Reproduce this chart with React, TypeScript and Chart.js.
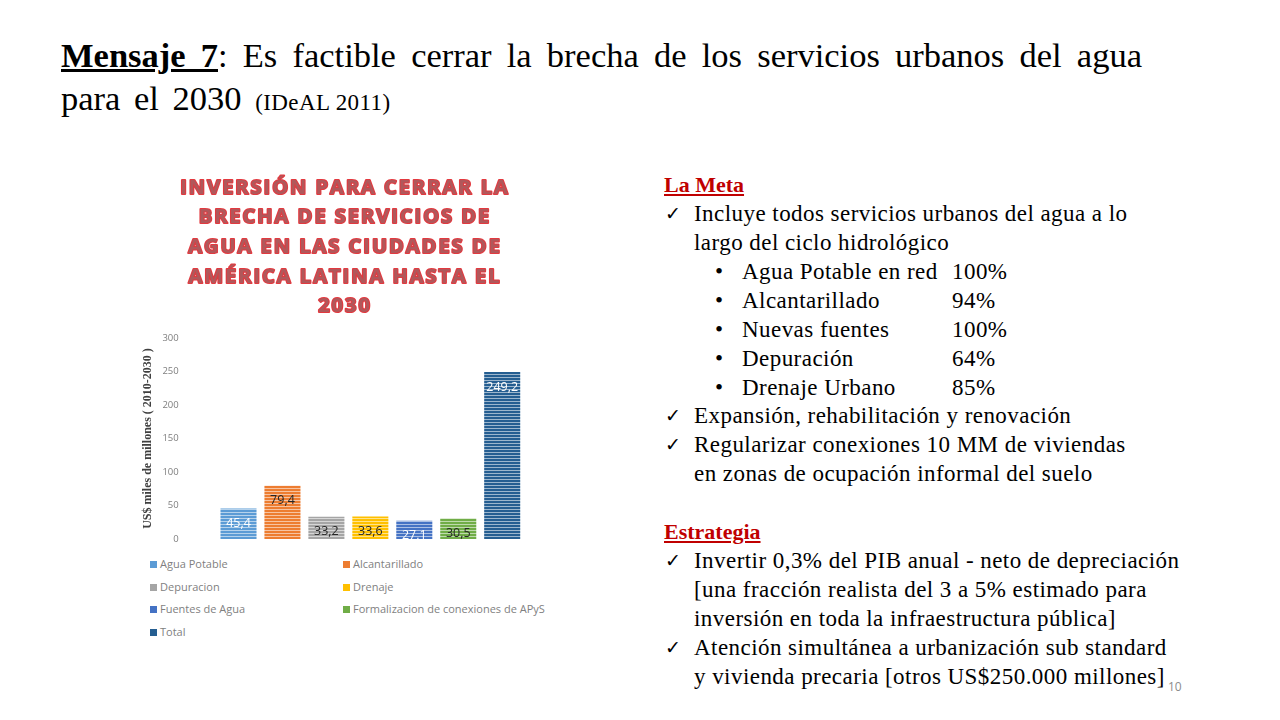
import React, { useEffect, useRef } from "react";
import { Chart, registerables } from "chart.js";

Chart.register(...registerables);

const seriesNames = [
  "Agua Potable",
  "Alcantarillado",
  "Depuracion",
  "Drenaje",
  "Fuentes de Agua",
  "Formalizacion de conexiones de APyS",
  "Total",
];
const seriesValues = [45.4, 79.4, 33.2, 33.6, 27.1, 30.5, 249.2];
const seriesColors = ["#5B9BD5", "#ED7D31", "#A5A5A5", "#FFC000", "#4472C4", "#70AD47", "#255E91"];
const labelColors = ["#FFFFFF", "#262626", "#262626", "#262626", "#FFFFFF", "#262626", "#FFFFFF"];
const chartTitle = [
  "INVERSIÓN PARA CERRAR LA",
  "BRECHA DE SERVICIOS DE",
  "AGUA EN LAS CIUDADES DE",
  "AMÉRICA LATINA HASTA EL",
  "2030",
];
const yAxisTitle = "US$ miles de millones ( 2010-2030 )";
const yMin = 0;
const yMax = 300;
const yStep = 50;

function makePattern(color: string): CanvasPattern | string {
  const c = document.createElement("canvas");
  c.width = 4;
  c.height = 3;
  const ctx = c.getContext("2d");
  if (!ctx) return color;
  ctx.fillStyle = color;
  ctx.fillRect(0, 0, 4, 3);
  ctx.fillStyle = "rgba(255,255,255,0.55)";
  ctx.fillRect(0, 2, 4, 1);
  const p = ctx.createPattern(c, "repeat");
  return p || color;
}

const fmt = (v: number) => v.toFixed(1).replace(".", ",");

const valueLabels = {
  id: "valueLabels",
  afterDatasetsDraw(chart: any) {
    const ctx = chart.ctx;
    ctx.save();
    ctx.font = "12.5px 'Open Sans'";
    ctx.textAlign = "center";
    ctx.textBaseline = "middle";
    chart.data.datasets.forEach((ds: any, i: number) => {
      const meta = chart.getDatasetMeta(i);
      const el = meta.data[0];
      if (!el) return;
      ctx.fillStyle = labelColors[i];
      ctx.fillText(fmt(ds.data[0]), el.x, el.y + 15);
    });
    ctx.restore();
  },
};

const outlinedTitle = {
  id: "outlinedTitle",
  afterDraw(chart: any) {
    const ctx = chart.ctx;
    ctx.save();
    ctx.font = "bold 20px 'Open Sans'";
    (ctx as any).letterSpacing = "2px";
    ctx.textAlign = "center";
    ctx.textBaseline = "middle";
    ctx.lineJoin = "round";
    const cx = 215;
    chartTitle.forEach((line, i) => {
      const y = 23 + i * 29.6;
      ctx.strokeStyle = "#E3393F";
      ctx.lineWidth = 2.2;
      ctx.strokeText(line, cx, y);
      ctx.fillStyle = "#B0585B";
      ctx.fillText(line, cx, y);
    });
    ctx.restore();
  },
};

function BarChart() {
  const ref = useRef<HTMLCanvasElement | null>(null);
  useEffect(() => {
    if (!ref.current) return;
    const chart = new Chart(ref.current, {
      type: "bar",
      data: {
        labels: [""],
        datasets: seriesNames.map((n, i) => ({
          label: n,
          data: [seriesValues[i]],
          backgroundColor: makePattern(seriesColors[i]) as any,
          borderWidth: 0,
          barPercentage: 0.82,
          categoryPercentage: 0.861,
        })),
      },
      options: {
        animation: false,
        responsive: false,
        maintainAspectRatio: false,
        layout: { padding: { left: 11, right: 21, top: 173, bottom: 11 } },
        plugins: {
          legend: { display: false },
          tooltip: { enabled: false },
          title: { display: false },
        },
        scales: {
          x: { display: false },
          y: {
            min: yMin,
            max: yMax,
            ticks: {
              stepSize: yStep,
              color: "#7F7F7F",
              font: { family: "'Open Sans'", size: 9.5 },
              padding: 5,
            },
            grid: { display: false },
            border: { display: false },
            title: {
              display: true,
              text: yAxisTitle,
              color: "#404040",
              font: { family: "'Liberation Serif'", size: 12, weight: "bold" },
              padding: { top: 0, bottom: 2 },
            },
          },
        },
      },
      plugins: [valueLabels, outlinedTitle],
    });
    return () => chart.destroy();
  }, []);
  return <canvas ref={ref} width={440} height={385} style={{ position: "absolute", left: 130, top: 165 }} />;
}

const serif = "'Liberation Serif', 'Times New Roman', serif";

export default function App() {
  const legendRows: number[][] = [];
  for (let i = 0; i < seriesNames.length; i += 2) legendRows.push([i, i + 1].filter((k) => k < seriesNames.length));
  const check = (top: number, lines: string[]) =>
    lines.map((l, j) => (
      <div key={l} style={{ position: "absolute", left: 694, top: top + j * 29, whiteSpace: "nowrap" }}>
        {j === 0 && <span style={{ position: "absolute", left: -29, fontFamily: "'DejaVu Sans'", fontSize: 19, top: 0, letterSpacing: 0 }}>✓</span>}
        {l}
      </div>
    ));
  const bullets: [string, string][] = [
    ["Agua Potable en red", "100%"],
    ["Alcantarillado", "94%"],
    ["Nuevas fuentes", "100%"],
    ["Depuración", "64%"],
    ["Drenaje Urbano", "85%"],
  ];
  return (
    <div style={{ position: "absolute", left: 0, top: 0, width: 1280, height: 720, background: "#fff", overflow: "hidden", fontFamily: serif, color: "#000" }}>
      <div style={{ position: "absolute", left: 61, top: 34, width: 1081, fontSize: 34.5, lineHeight: "43px", textAlign: "justify", textAlignLast: "justify" as any, whiteSpace: "nowrap" }}>
        <span style={{ fontWeight: "bold", textDecoration: "underline" }}>Mensaje 7</span>: Es factible cerrar la brecha de los servicios urbanos del agua
      </div>
      <div style={{ position: "absolute", left: 61, top: 77, fontSize: 34.5, lineHeight: "43px", whiteSpace: "nowrap", wordSpacing: 5 }}>
        para el 2030 <span style={{ fontSize: 23, wordSpacing: 0, letterSpacing: 0.4 }}>(IDeAL 2011)</span>
      </div>

      <BarChart />

      {legendRows.map((row, r) =>
        row.map((k, c) => (
          <div key={k} style={{ position: "absolute", left: c === 0 ? 150 : 343, top: 557 + r * 22.7, fontFamily: "'Open Sans'", fontSize: 11, color: "#7F7F7F", whiteSpace: "nowrap", lineHeight: "14px" }}>
            <span style={{ display: "inline-block", width: 7, height: 7, background: seriesColors[k], marginRight: 3 }} />
            {seriesNames[k]}
          </div>
        ))
      )}

      <div style={{ fontSize: 23, lineHeight: "29px", letterSpacing: 0.45 }}>
        <div style={{ position: "absolute", left: 664, top: 170, fontSize: 22, letterSpacing: 0, fontWeight: "bold", color: "#C00000", textDecoration: "underline" }}>La Meta</div>
        {check(199, ["Incluye todos servicios urbanos del agua a lo", "largo del ciclo hidrológico"])}
        {bullets.map(([a, b], j) => (
          <div key={a} style={{ position: "absolute", left: 0, top: 257 + j * 29, whiteSpace: "nowrap" }}>
            <span style={{ position: "absolute", left: 715 }}>•</span>
            <span style={{ position: "absolute", left: 742 }}>{a}</span>
            <span style={{ position: "absolute", left: 952 }}>{b}</span>
          </div>
        ))}
        {check(401, ["Expansión, rehabilitación y renovación"])}
        {check(430, ["Regularizar conexiones 10 MM de viviendas", "en zonas de ocupación informal del suelo"])}
        <div style={{ position: "absolute", left: 664, top: 517, fontSize: 22, letterSpacing: 0, fontWeight: "bold", color: "#C00000", textDecoration: "underline" }}>Estrategia</div>
        {check(546, ["Invertir 0,3% del PIB anual - neto de depreciación", "[una fracción realista del 3 a 5% estimado para", "inversión en toda la infraestructura pública]"])}
        {check(633, ["Atención simultánea a urbanización sub standard", "y vivienda precaria [otros US$250.000 millones]"])}
      </div>
      <div style={{ position: "absolute", left: 1168, top: 678, fontFamily: "'Open Sans'", fontSize: 12, color: "#8C8C8C" }}>10</div>
    </div>
  );
}
